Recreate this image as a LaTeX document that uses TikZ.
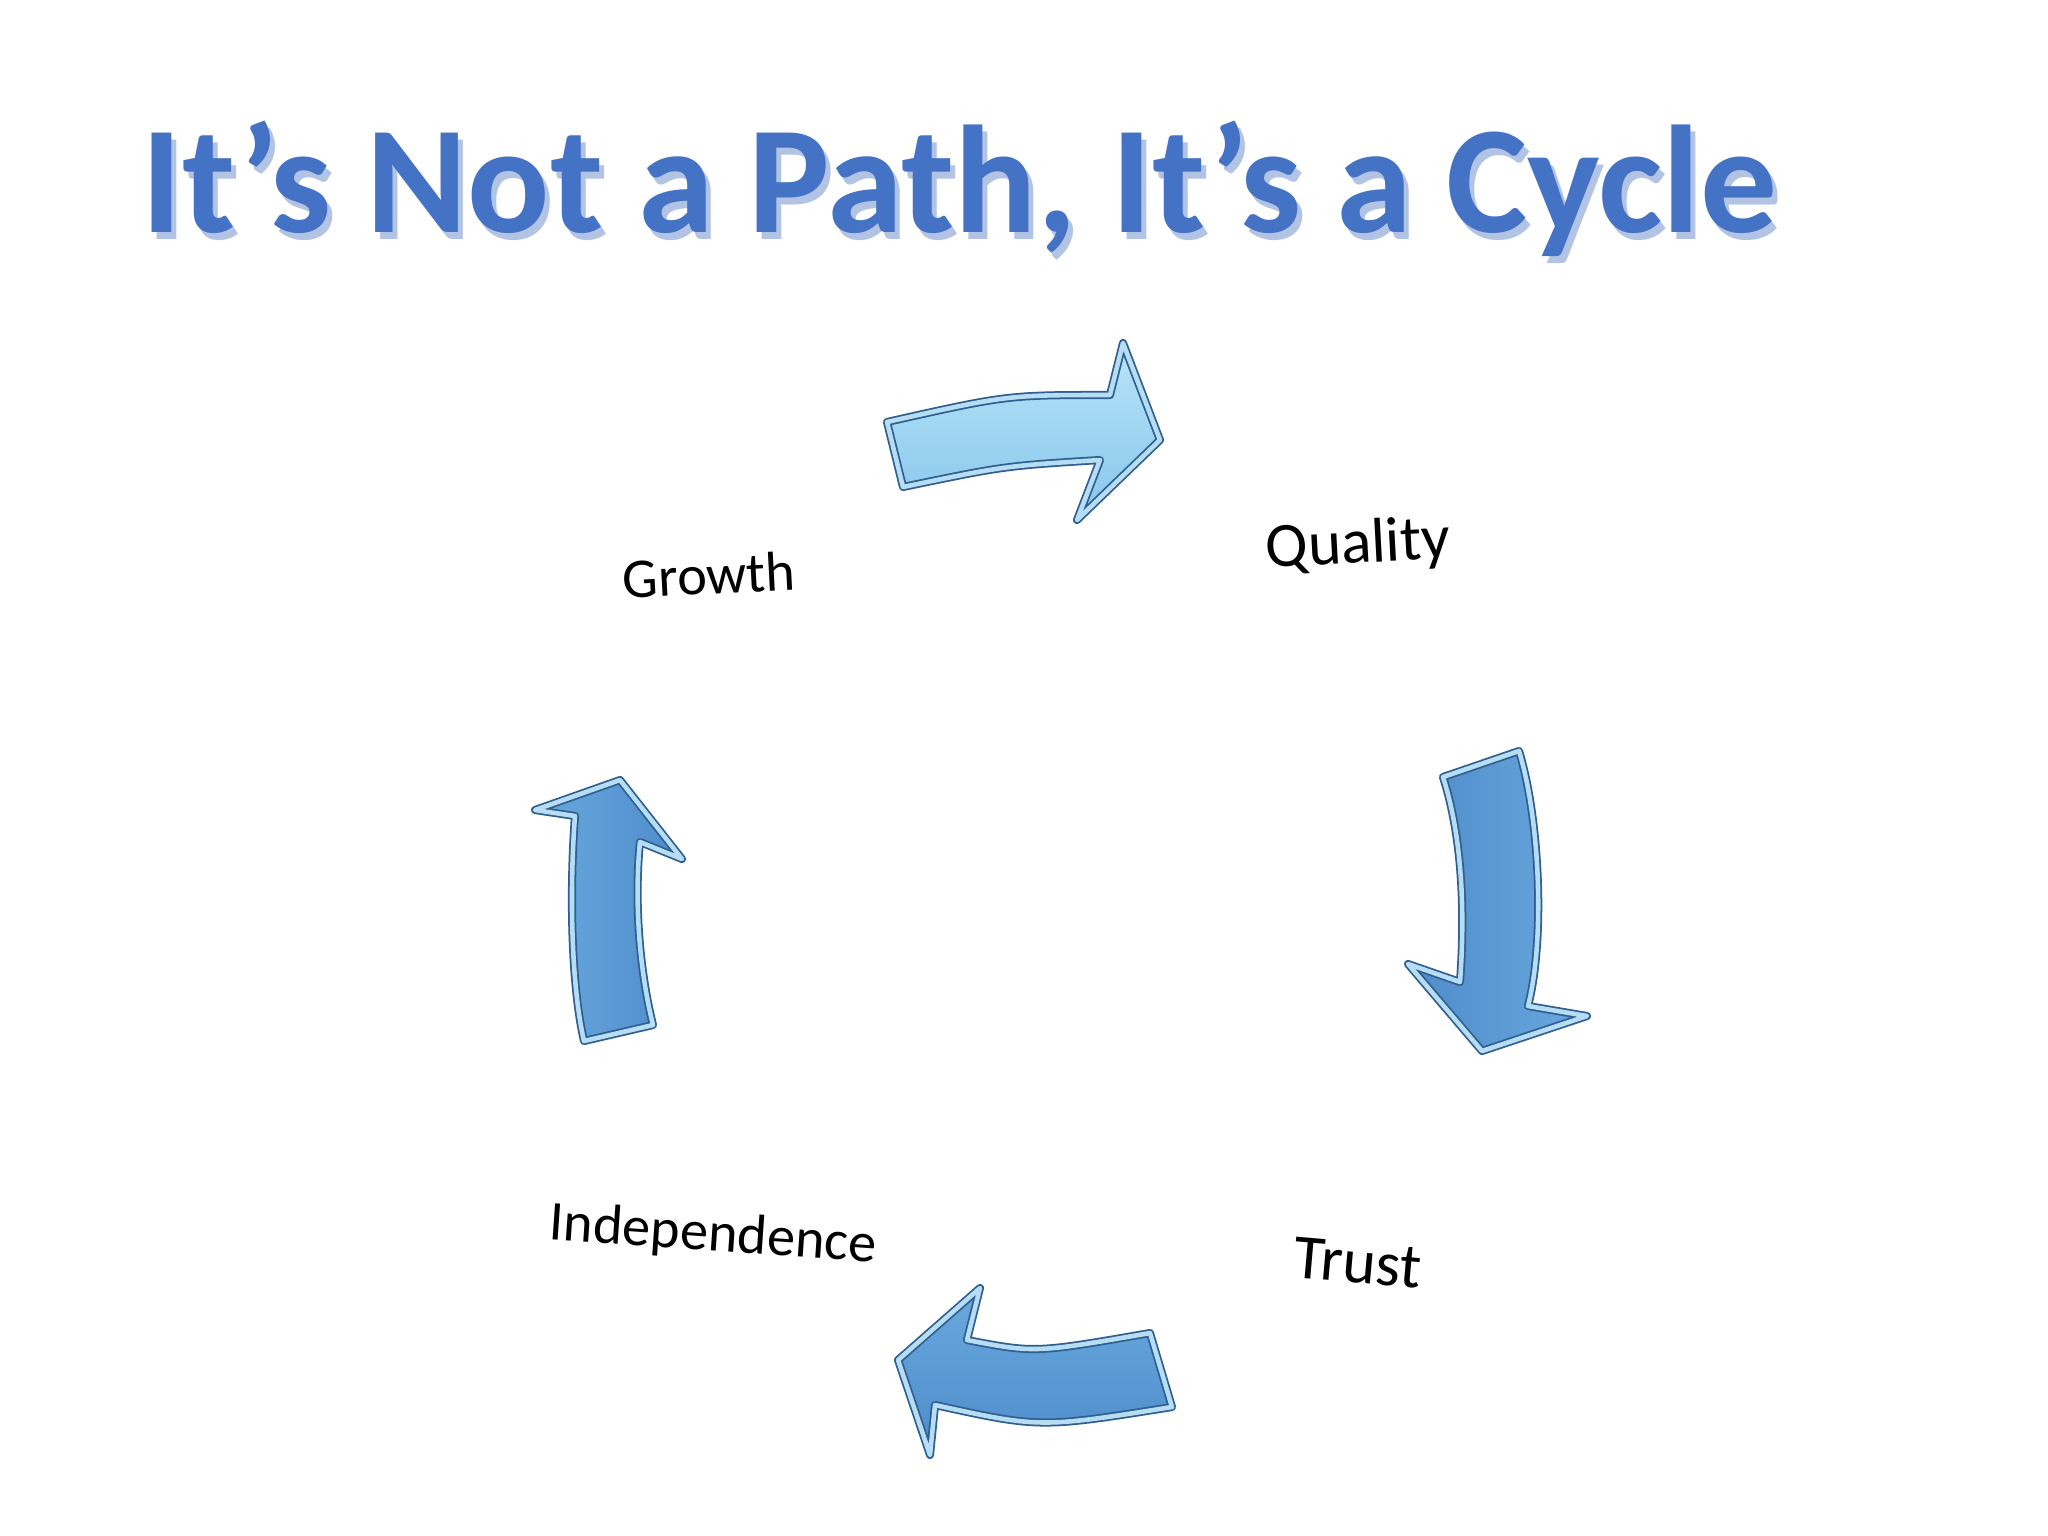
\documentclass[tikz,border=0pt]{standalone}
\usepackage{fontspec}
\setmainfont{Carlito}
\definecolor{titleblue}{HTML}{4472C4}
\definecolor{shadowblue}{HTML}{B3C3E4}
\definecolor{rimblue}{HTML}{2E5F8E}
\definecolor{paleblue}{HTML}{B9E4F8}
\definecolor{skyblue}{HTML}{86C6EC}
\definecolor{midblue}{HTML}{6AA8DE}
\definecolor{deepblue}{HTML}{4E8CCB}

\begin{document}
\begin{tikzpicture}[
  x=0.01cm,y=-0.01cm,
  titletext/.style={anchor=base west,inner sep=0pt,font=\fontsize{43.6}{50}\selectfont\bfseries},
  farlabel/.style={inner sep=0pt,font=\fontsize{16}{18}\selectfont},
  nearlabel/.style={inner sep=0pt,font=\fontsize{18}{20}\selectfont},
  blockarrow/.style={draw=rimblue,line width=0.5pt,double=skyblue!60!white,double distance=1.3pt,line join=round}
]
  \useasboundingbox (0,0) rectangle (2048,1536);

  % title with its soft shadow
  \node[titletext,text=shadowblue] (tshadow) at (146,239) {It’s Not a Path, It’s a Cycle};
  \node[titletext,text=titleblue] (title) at (141,232) {It’s Not a Path, It’s a Cycle};

  % the four stages
  \node[farlabel,rotate=3] (growth) at (709,575) {Growth};
  \node[nearlabel,rotate=3] (quality) at (1358,546) {Quality};
  \node[nearlabel,rotate=-5] (trust) at (1358,1263) {Trust};
  \node[farlabel,rotate=-4] (indep) at (713,1236) {Independence};

  % growth -> quality
  \draw[blockarrow,top color=paleblue,bottom color=skyblue]
    (887,422) .. controls (1007,395) .. (1110,395) -- (1123,343) -- (1160,440)
    -- (1077,520) -- (1100,460) .. controls (1004,466) .. (903,487) -- cycle;
  % quality -> trust
  \draw[blockarrow,left color=deepblue,right color=midblue]
    (1443,777) -- (1519,751) .. controls (1540,820) and (1545,940) .. (1528,1006)
    -- (1587,1016) -- (1482,1051) -- (1408,964) -- (1460,982)
    .. controls (1466,900) and (1460,830) .. (1443,777) -- cycle;
  % trust -> independence
  \draw[blockarrow,top color=midblue,bottom color=deepblue]
    (1150,1333) .. controls (1035,1353) .. (967,1340) -- (980,1288) -- (898,1360)
    -- (930,1455) -- (935,1405) .. controls (1040,1428) .. (1172,1407) -- cycle;
  % independence -> growth
  \draw[blockarrow,left color=midblue,right color=deepblue]
    (584,1041) .. controls (570,980) and (570,880) .. (575,816) -- (535,810)
    -- (620,780) -- (682,859) -- (640,842)
    .. controls (635,890) and (637,960) .. (653,1025) -- cycle;
\end{tikzpicture}
\end{document}
